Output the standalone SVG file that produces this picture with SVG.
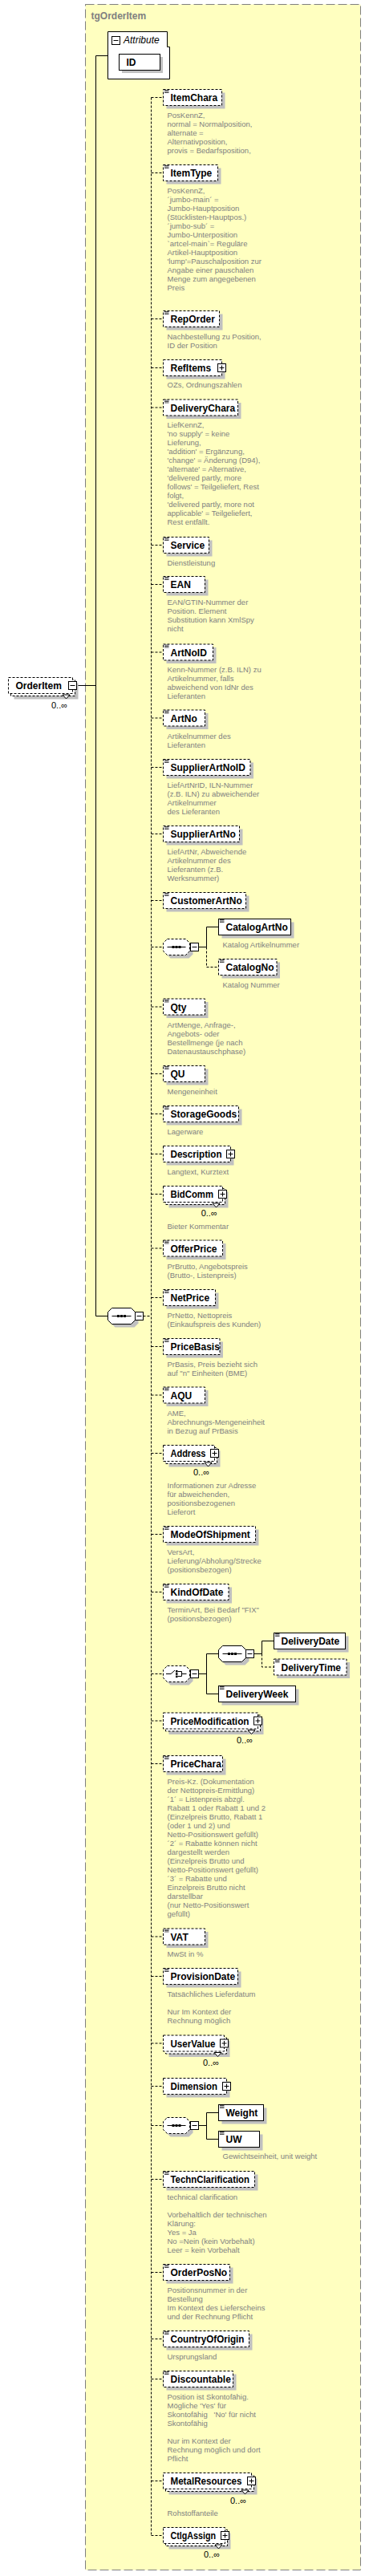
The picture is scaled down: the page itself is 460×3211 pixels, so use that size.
<svg xmlns="http://www.w3.org/2000/svg" width="460" height="3211" viewBox="0 0 460 3211">
<style>
.bg{fill:#FFFFC0;stroke:#808080;stroke-width:1;stroke-dasharray:11 4}
.sh{fill:#C0C0C0;stroke:none}
.b{fill:#fff;stroke:#000;stroke-width:1}
.d{stroke-dasharray:3 2}
.ln{fill:none;stroke:#000;stroke-width:1}
.dl{fill:none;stroke:#000;stroke-width:1;stroke-dasharray:3 2}
.ic{fill:none;stroke:#000;stroke-width:0.7}
.dot{fill:#000}
.ttl{font-family:"Liberation Sans",Arial,sans-serif;font-size:12px;font-weight:bold;fill:#808080}
.nm{font-family:"Liberation Sans",Arial,sans-serif;font-size:12px;font-weight:bold;fill:#000}
.it{font-family:"Liberation Sans",Arial,sans-serif;font-size:12px;font-style:italic;fill:#000}
.ds{font-family:"Liberation Sans",Arial,sans-serif;font-size:9.5px;fill:#808080}
.mu{font-family:"Liberation Sans",Arial,sans-serif;font-size:11px;fill:#000}
</style>

<g id="tgOrderItem">
<rect class="bg" x="106.5" y="5.5" width="343" height="3198"/>
<text class="ttl" x="113.5" y="24">tgOrderItem</text>
</g>

<g id="connectors">
<path class="ln" d="M95.5 854.5H119.5M119.5 69.5V1640.5H134.5M119.5 69.5H134.5"/>
<path class="dl" d="M178.5 1640.5H188.5M188.5 121.5V3160.5"/>
<path class="dl" d="M188.5 121.5H203.5M188.5 215.5H203.5M188.5 397.5H203.5M188.5 458.5H203.5M188.5 508H203.5M188.5 679.5H203.5M188.5 728.5H203.5M188.5 813H203.5M188.5 895H203.5M188.5 956.5H203.5M188.5 1039.5H203.5M188.5 1122.5H203.5M188.5 1180.5H203.5M188.5 1255H203.5M188.5 1338.5H203.5M188.5 1388.5H203.5M188.5 1438.5H203.5M188.5 1488.5H203.5M188.5 1556H203.5M188.5 1617.5H203.5M188.5 1678.5H203.5M188.5 1739H203.5M188.5 1811.5H203.5M188.5 1912.5H203.5M188.5 1984.5H203.5M188.5 2086.5H203.5M188.5 2145H203.5M188.5 2198.5H203.5M188.5 2414H203.5M188.5 2463.5H203.5M188.5 2547H203.5M188.5 2600.5H203.5M188.5 2649.5H203.5M188.5 2716.5H203.5M188.5 2832.5H203.5M188.5 2915.5H203.5M188.5 2965.5H203.5M188.5 3092.5H203.5M188.5 3160.5H203.5"/>
<path class="ln" d="M247.5 1180.5H257.5M257.5 1155.5V1180.5M257.5 1155.5H272.5"/>
<path class="dl" d="M257.5 1180.5V1205.5H272.5"/>
<path class="ln" d="M247.5 2086.5H257.5M257.5 2061.5V2111.5M257.5 2061.5H272.5M257.5 2111.5H272.5"/>
<path class="ln" d="M316.5 2061.5H326.5M326.5 2045.5V2061.5M326.5 2045.5H341.5"/>
<path class="dl" d="M326.5 2061.5V2078H341.5"/>
<path class="ln" d="M247.5 2649.5H257.5M257.5 2633.5V2666.5M257.5 2633.5H272.5M257.5 2666.5H272.5"/>
</g>

<g id="OrderItem">
<rect class="sh" x="17.5" y="851.5" width="80" height="20"/>
<rect class="b d" x="13.5" y="847.5" width="80" height="20"/>
<rect class="b d" x="10.5" y="844.5" width="80" height="20"/>
<polygon class="b" points="78,866 82.5,871 87,866"/>
<text class="nm" x="19.5" y="859">OrderItem</text>
<rect class="b" x="85.5" y="849.5" width="10" height="10"/>
<path class="ln" d="M87.5 854.5h6"/>
<text class="mu" x="64" y="882.5">0..∞</text>
</g>

<g id="Attribute">
<polygon class="b" points="134.5,39.5 208.5,39.5 208.5,58.5 211.5,58.5 211.5,98.5 134.5,98.5"/>
<rect class="b" x="139.5" y="45.5" width="10" height="10"/>
<path class="ln" d="M141.5 50.5h6"/>
<text class="it" x="154" y="54">Attribute</text>
<rect class="sh" x="152" y="71" width="51" height="20"/>
<rect class="b" x="148.5" y="67.5" width="51" height="20"/>
<text class="nm" x="157.5" y="82">ID</text>
</g>

<g id="sequence">
<path class="sh" transform="translate(4 4)" d="M139.5 1630.5H163.5L168.5 1635.5V1645.5L163.5 1650.5H139.5L134.5 1645.5V1635.5Z"/>
<path class="b" d="M139.5 1630.5H163.5L168.5 1635.5V1645.5L163.5 1650.5H139.5L134.5 1645.5V1635.5Z"/>
<path class="ln" d="M139.5 1640.5H163.5"/>
<rect class="dot" x="146" y="1639" width="3" height="3"/><rect class="dot" x="150" y="1639" width="3" height="3"/><rect class="dot" x="154" y="1639" width="3" height="3"/>
<rect class="b" x="168.5" y="1635.5" width="10" height="10"/>
<path class="ln" d="M170.5 1640.5h6"/>
</g>

<g id="ItemChara">
<rect class="sh" x="207.5" y="115.5" width="73" height="20"/>
<rect class="b d" x="203.5" y="111.5" width="73" height="20"/>
<path class="ic" d="M205 112.5h5.5M205 114h5.5M205 115.5h5.5"/>
<text class="nm" x="212.5" y="126">ItemChara</text>
<text class="ds" y="147"><tspan x="208.5">PosKennZ,</tspan><tspan x="208.5" dy="11">normal = Normalposition,</tspan><tspan x="208.5" dy="11">alternate =</tspan><tspan x="208.5" dy="11">Alternativposition,</tspan><tspan x="208.5" dy="11">provis = Bedarfsposition,</tspan></text>
</g>

<g id="ItemType">
<rect class="sh" x="207.5" y="209.5" width="68" height="20"/>
<rect class="b d" x="203.5" y="205.5" width="68" height="20"/>
<path class="ic" d="M205 206.5h5.5M205 208h5.5M205 209.5h5.5"/>
<text class="nm" x="212.5" y="220">ItemType</text>
<text class="ds" y="241"><tspan x="208.5">PosKennZ,</tspan><tspan x="208.5" dy="11">´jumbo-main´ =</tspan><tspan x="208.5" dy="11">Jumbo-Hauptposition</tspan><tspan x="208.5" dy="11">(Stücklisten-Hauptpos.)</tspan><tspan x="208.5" dy="11">´jumbo-sub´ =</tspan><tspan x="208.5" dy="11">Jumbo-Unterposition</tspan><tspan x="208.5" dy="11">`artcel-main`= Reguläre</tspan><tspan x="208.5" dy="11">Artikel-Hauptposition</tspan><tspan x="208.5" dy="11">'lump'=Pauschalposition zur</tspan><tspan x="208.5" dy="11">Angabe einer pauschalen</tspan><tspan x="208.5" dy="11">Menge zum angegebenen</tspan><tspan x="208.5" dy="11">Preis</tspan></text>
</g>

<g id="RepOrder">
<rect class="sh" x="207.5" y="391.5" width="70" height="20"/>
<rect class="b d" x="203.5" y="387.5" width="70" height="20"/>
<path class="ic" d="M205 388.5h5.5M205 390h5.5M205 391.5h5.5"/>
<text class="nm" x="212.5" y="402">RepOrder</text>
<text class="ds" y="423"><tspan x="208.5">Nachbestellung zu Position,</tspan><tspan x="208.5" dy="11">ID der Position</tspan></text>
</g>

<g id="RefItems">
<rect class="sh" x="207.5" y="452.5" width="73" height="20"/>
<rect class="b d" x="203.5" y="448.5" width="73" height="20"/>
<text class="nm" x="212.5" y="463">RefItems</text>
<rect class="b" x="271.5" y="453.5" width="10" height="10"/>
<path class="ln" d="M273.5 458.5h6M276.5 455.5v6"/>
<text class="ds" y="483"><tspan x="208.5">OZs, Ordnungszahlen</tspan></text>
</g>

<g id="DeliveryChara">
<rect class="sh" x="207.5" y="502" width="93" height="20"/>
<rect class="b d" x="203.5" y="498" width="93" height="20"/>
<path class="ic" d="M205 499h5.5M205 500.5h5.5M205 502h5.5"/>
<text class="nm" x="212.5" y="512.5">DeliveryChara</text>
<text class="ds" y="533"><tspan x="208.5">LiefKennZ,</tspan><tspan x="208.5" dy="11">'no supply' = keine</tspan><tspan x="208.5" dy="11">Lieferung,</tspan><tspan x="208.5" dy="11">'addition' = Ergänzung,</tspan><tspan x="208.5" dy="11">'change' = Änderung (D94),</tspan><tspan x="208.5" dy="11">'alternate' = Alternative,</tspan><tspan x="208.5" dy="11">'delivered partly, more</tspan><tspan x="208.5" dy="11">follows' = Teilgeliefert, Rest</tspan><tspan x="208.5" dy="11">folgt,</tspan><tspan x="208.5" dy="11">'delivered partly, more not</tspan><tspan x="208.5" dy="11">applicable' = Teilgeliefert,</tspan><tspan x="208.5" dy="11">Rest entfällt.</tspan></text>
</g>

<g id="Service">
<rect class="sh" x="207.5" y="673.5" width="57" height="20"/>
<rect class="b d" x="203.5" y="669.5" width="57" height="20"/>
<path class="ic" d="M205 670.5h5.5M205 672h5.5M205 673.5h5.5"/>
<text class="nm" x="212.5" y="684">Service</text>
<text class="ds" y="704.5"><tspan x="208.5">Dienstleistung</tspan></text>
</g>

<g id="EAN">
<rect class="sh" x="207.5" y="722.5" width="52" height="20"/>
<rect class="b d" x="203.5" y="718.5" width="52" height="20"/>
<path class="ic" d="M205 719.5h5.5M205 721h5.5M205 722.5h5.5"/>
<text class="nm" x="212.5" y="733">EAN</text>
<text class="ds" y="754"><tspan x="208.5">EAN/GTIN-Nummer der</tspan><tspan x="208.5" dy="11">Position. Element</tspan><tspan x="208.5" dy="11">Substitution kann XmlSpy</tspan><tspan x="208.5" dy="11">nicht</tspan></text>
</g>

<g id="ArtNoID">
<rect class="sh" x="207.5" y="807" width="62" height="20"/>
<rect class="b d" x="203.5" y="803" width="62" height="20"/>
<path class="ic" d="M205 804h5.5M205 805.5h5.5M205 807h5.5"/>
<text class="nm" x="212.5" y="817.5">ArtNoID</text>
<text class="ds" y="837.5"><tspan x="208.5">Kenn-Nummer (z.B. ILN) zu</tspan><tspan x="208.5" dy="11">Artikelnummer, falls</tspan><tspan x="208.5" dy="11">abweichend von IdNr des</tspan><tspan x="208.5" dy="11">Lieferanten</tspan></text>
</g>

<g id="ArtNo">
<rect class="sh" x="207.5" y="889" width="52" height="20"/>
<rect class="b d" x="203.5" y="885" width="52" height="20"/>
<path class="ic" d="M205 886h5.5M205 887.5h5.5M205 889h5.5"/>
<text class="nm" x="212.5" y="899.5">ArtNo</text>
<text class="ds" y="920.5"><tspan x="208.5">Artikelnummer des</tspan><tspan x="208.5" dy="11">Lieferanten</tspan></text>
</g>

<g id="SupplierArtNoID">
<rect class="sh" x="207.5" y="950.5" width="108.5" height="20"/>
<rect class="b d" x="203.5" y="946.5" width="108.5" height="20"/>
<path class="ic" d="M205 947.5h5.5M205 949h5.5M205 950.5h5.5"/>
<text class="nm" x="212.5" y="961">SupplierArtNoID</text>
<text class="ds" y="981.5"><tspan x="208.5">LiefArtNrID, ILN-Nummer</tspan><tspan x="208.5" dy="11">(z.B. ILN) zu abweichender</tspan><tspan x="208.5" dy="11">Artikelnummer</tspan><tspan x="208.5" dy="11">des Lieferanten</tspan></text>
</g>

<g id="SupplierArtNo">
<rect class="sh" x="207.5" y="1033.5" width="95" height="20"/>
<rect class="b d" x="203.5" y="1029.5" width="95" height="20"/>
<path class="ic" d="M205 1030.5h5.5M205 1032h5.5M205 1033.5h5.5"/>
<text class="nm" x="212.5" y="1044">SupplierArtNo</text>
<text class="ds" y="1064.5"><tspan x="208.5">LiefArtNr, Abweichende</tspan><tspan x="208.5" dy="11">Artikelnummer des</tspan><tspan x="208.5" dy="11">Lieferanten (z.B.</tspan><tspan x="208.5" dy="11">Werksnummer)</tspan></text>
</g>

<g id="CustomerArtNo">
<rect class="sh" x="207.5" y="1116.5" width="103" height="20"/>
<rect class="b d" x="203.5" y="1112.5" width="103" height="20"/>
<path class="ic" d="M205 1113.5h5.5M205 1115h5.5M205 1116.5h5.5"/>
<text class="nm" x="212.5" y="1127">CustomerArtNo</text>
</g>

<g id="sequence-catalog">
<path class="sh" transform="translate(4 4)" d="M208.5 1170.5H231.5L236.5 1175.5V1185.5L231.5 1190.5H208.5L203.5 1185.5V1175.5Z"/>
<path class="b d" d="M208.5 1170.5H231.5L236.5 1175.5V1185.5L231.5 1190.5H208.5L203.5 1185.5V1175.5Z"/>
<path class="ln" d="M208.5 1180.5H231.5"/>
<rect class="dot" x="214.5" y="1179" width="3" height="3"/><rect class="dot" x="218.5" y="1179" width="3" height="3"/><rect class="dot" x="222.5" y="1179" width="3" height="3"/>
<rect class="b" x="237.5" y="1175.5" width="10" height="10"/>
<path class="ln" d="M239.5 1180.5h6"/>
</g>

<g id="CatalogArtNo">
<rect class="sh" x="276.5" y="1149.5" width="90" height="20"/>
<rect class="b" x="272.5" y="1145.5" width="90" height="20"/>
<path class="ic" d="M274 1146.5h5.5M274 1148h5.5M274 1149.5h5.5"/>
<text class="nm" x="281.5" y="1160">CatalogArtNo</text>
<text class="ds" x="277.5" y="1180.5">Katalog Artikelnummer</text>
</g>

<g id="CatalogNo">
<rect class="sh" x="276.5" y="1199.5" width="72.5" height="20"/>
<rect class="b d" x="272.5" y="1195.5" width="72.5" height="20"/>
<path class="ic" d="M274 1196.5h5.5M274 1198h5.5M274 1199.5h5.5"/>
<text class="nm" x="281.5" y="1210">CatalogNo</text>
<text class="ds" x="277.5" y="1230.5">Katalog Nummer</text>
</g>

<g id="Qty">
<rect class="sh" x="207.5" y="1249" width="52" height="20"/>
<rect class="b d" x="203.5" y="1245" width="52" height="20"/>
<path class="ic" d="M205 1246h5.5M205 1247.5h5.5M205 1249h5.5"/>
<text class="nm" x="212.5" y="1259.5">Qty</text>
<text class="ds" y="1280.5"><tspan x="208.5">ArtMenge, Anfrage-,</tspan><tspan x="208.5" dy="11">Angebots- oder</tspan><tspan x="208.5" dy="11">Bestellmenge (je nach</tspan><tspan x="208.5" dy="11">Datenaustauschphase)</tspan></text>
</g>

<g id="QU">
<rect class="sh" x="207.5" y="1332.5" width="52" height="20"/>
<rect class="b d" x="203.5" y="1328.5" width="52" height="20"/>
<path class="ic" d="M205 1329.5h5.5M205 1331h5.5M205 1332.5h5.5"/>
<text class="nm" x="212.5" y="1343">QU</text>
<text class="ds" y="1363.5"><tspan x="208.5">Mengeneinheit</tspan></text>
</g>

<g id="StorageGoods">
<rect class="sh" x="207.5" y="1382.5" width="94" height="20"/>
<rect class="b d" x="203.5" y="1378.5" width="94" height="20"/>
<path class="ic" d="M205 1379.5h5.5M205 1381h5.5M205 1382.5h5.5"/>
<text class="nm" x="212.5" y="1393">StorageGoods</text>
<text class="ds" y="1413.5"><tspan x="208.5">Lagerware</tspan></text>
</g>

<g id="Description">
<rect class="sh" x="207.5" y="1432.5" width="84" height="20"/>
<rect class="b d" x="203.5" y="1428.5" width="84" height="20"/>
<text class="nm" x="212.5" y="1443" textLength="64" lengthAdjust="spacingAndGlyphs">Description</text>
<rect class="b" x="282.5" y="1433.5" width="10" height="10"/>
<path class="ln" d="M284.5 1438.5h6M287.5 1435.5v6"/>
<text class="ds" y="1463.5"><tspan x="208.5">Langtext, Kurztext</tspan></text>
</g>

<g id="BidComm">
<rect class="sh" x="210.5" y="1485.5" width="74" height="20"/>
<rect class="b d" x="206.5" y="1481.5" width="74" height="20"/>
<rect class="b d" x="203.5" y="1478.5" width="74" height="20"/>
<polygon class="b" points="265,1500 269.5,1505 274,1500"/>
<text class="nm" x="212.5" y="1493" textLength="53.5" lengthAdjust="spacingAndGlyphs">BidComm</text>
<rect class="b" x="272.5" y="1483.5" width="10" height="10"/>
<path class="ln" d="M274.5 1488.5h6M277.5 1485.5v6"/>
<text class="mu" x="250.7" y="1516">0..∞</text>
<text class="ds" y="1531.5"><tspan x="208.5">Bieter Kommentar</tspan></text>
</g>

<g id="OfferPrice">
<rect class="sh" x="207.5" y="1550" width="74" height="20"/>
<rect class="b d" x="203.5" y="1546" width="74" height="20"/>
<path class="ic" d="M205 1547h5.5M205 1548.5h5.5M205 1550h5.5"/>
<text class="nm" x="212.5" y="1560.5">OfferPrice</text>
<text class="ds" y="1581.5"><tspan x="208.5">PrBrutto, Angebotspreis</tspan><tspan x="208.5" dy="11">(Brutto-, Listenpreis)</tspan></text>
</g>

<g id="NetPrice">
<rect class="sh" x="207.5" y="1611.5" width="65" height="20"/>
<rect class="b d" x="203.5" y="1607.5" width="65" height="20"/>
<path class="ic" d="M205 1608.5h5.5M205 1610h5.5M205 1611.5h5.5"/>
<text class="nm" x="212.5" y="1622">NetPrice</text>
<text class="ds" y="1642.5"><tspan x="208.5">PrNetto, Nettopreis</tspan><tspan x="208.5" dy="11">(Einkaufspreis des Kunden)</tspan></text>
</g>

<g id="PriceBasis">
<rect class="sh" x="207.5" y="1672.5" width="70.5" height="20"/>
<rect class="b d" x="203.5" y="1668.5" width="70.5" height="20"/>
<path class="ic" d="M205 1669.5h5.5M205 1671h5.5M205 1672.5h5.5"/>
<text class="nm" x="212.5" y="1683">PriceBasis</text>
<text class="ds" y="1703.5"><tspan x="208.5">PrBasis, Preis bezieht sich</tspan><tspan x="208.5" dy="11">auf "n" Einheiten (BME)</tspan></text>
</g>

<g id="AQU">
<rect class="sh" x="207.5" y="1733" width="52" height="20"/>
<rect class="b d" x="203.5" y="1729" width="52" height="20"/>
<path class="ic" d="M205 1730h5.5M205 1731.5h5.5M205 1733h5.5"/>
<text class="nm" x="212.5" y="1743.5">AQU</text>
<text class="ds" y="1764.5"><tspan x="208.5">AME,</tspan><tspan x="208.5" dy="11">Abrechnungs-Mengeneinheit</tspan><tspan x="208.5" dy="11">in Bezug auf PrBasis</tspan></text>
</g>

<g id="Address">
<rect class="sh" x="210.5" y="1808.5" width="64" height="20"/>
<rect class="b d" x="206.5" y="1804.5" width="64" height="20"/>
<rect class="b d" x="203.5" y="1801.5" width="64" height="20"/>
<polygon class="b" points="255,1823 259.5,1828 264,1823"/>
<text class="nm" x="212.5" y="1816" textLength="44" lengthAdjust="spacingAndGlyphs">Address</text>
<rect class="b" x="262.5" y="1806.5" width="10" height="10"/>
<path class="ln" d="M264.5 1811.5h6M267.5 1808.5v6"/>
<text class="mu" x="241" y="1839">0..∞</text>
<text class="ds" y="1854.5"><tspan x="208.5">Informationen zur Adresse</tspan><tspan x="208.5" dy="11">für abweichenden,</tspan><tspan x="208.5" dy="11">positionsbezogenen</tspan><tspan x="208.5" dy="11">Lieferort</tspan></text>
</g>

<g id="ModeOfShipment">
<rect class="sh" x="207.5" y="1906.5" width="115" height="20"/>
<rect class="b d" x="203.5" y="1902.5" width="115" height="20"/>
<path class="ic" d="M205 1903.5h5.5M205 1905h5.5M205 1906.5h5.5"/>
<text class="nm" x="212.5" y="1917">ModeOfShipment</text>
<text class="ds" y="1937.5"><tspan x="208.5">VersArt,</tspan><tspan x="208.5" dy="11">Lieferung/Abholung/Strecke</tspan><tspan x="208.5" dy="11">(positionsbezogen)</tspan></text>
</g>

<g id="KindOfDate">
<rect class="sh" x="207.5" y="1978.5" width="81.5" height="20"/>
<rect class="b d" x="203.5" y="1974.5" width="81.5" height="20"/>
<path class="ic" d="M205 1975.5h5.5M205 1977h5.5M205 1978.5h5.5"/>
<text class="nm" x="212.5" y="1989">KindOfDate</text>
<text class="ds" y="2009.5"><tspan x="208.5">TerminArt, Bei Bedarf "FIX"</tspan><tspan x="208.5" dy="11">(positionsbezogen)</tspan></text>
</g>

<g id="choice-delivery">
<path class="sh" transform="translate(4 4)" d="M208.5 2076.5H231.5L236.5 2081.5V2091.5L231.5 2096.5H208.5L203.5 2091.5V2081.5Z"/>
<path class="b d" d="M208.5 2076.5H231.5L236.5 2081.5V2091.5L231.5 2096.5H208.5L203.5 2091.5V2081.5Z"/>
<path class="ln" d="M207 2086.5H213L218 2082M221.5 2083.5H226.5V2089.5H221.5M226.5 2086.5H232.5"/>
<rect class="dot" x="219" y="2082" width="2.5" height="2.5"/><rect class="dot" x="219" y="2085.3" width="2.5" height="2.5"/><rect class="dot" x="219" y="2088.6" width="2.5" height="2.5"/>
<rect class="b" x="237.5" y="2081.5" width="10" height="10"/>
<path class="ln" d="M239.5 2086.5h6"/>
</g>

<g id="sequence-date">
<path class="sh" transform="translate(4 4)" d="M277.5 2051.5H301.5L306.5 2056.5V2066.5L301.5 2071.5H277.5L272.5 2066.5V2056.5Z"/>
<path class="b" d="M277.5 2051.5H301.5L306.5 2056.5V2066.5L301.5 2071.5H277.5L272.5 2066.5V2056.5Z"/>
<path class="ln" d="M277.5 2061.5H301.5"/>
<rect class="dot" x="284" y="2060" width="3" height="3"/><rect class="dot" x="288" y="2060" width="3" height="3"/><rect class="dot" x="292" y="2060" width="3" height="3"/>
<rect class="b" x="306.5" y="2056.5" width="10" height="10"/>
<path class="ln" d="M308.5 2061.5h6"/>
</g>

<g id="DeliveryDate">
<rect class="sh" x="345.5" y="2039.5" width="89" height="20"/>
<rect class="b" x="341.5" y="2035.5" width="89" height="20"/>
<path class="ic" d="M343 2036.5h5.5M343 2038h5.5M343 2039.5h5.5"/>
<text class="nm" x="350.5" y="2050">DeliveryDate</text>
</g>

<g id="DeliveryTime">
<rect class="sh" x="345.5" y="2072" width="90.5" height="20"/>
<rect class="b d" x="341.5" y="2068" width="90.5" height="20"/>
<path class="ic" d="M343 2069h5.5M343 2070.5h5.5M343 2072h5.5"/>
<text class="nm" x="350.5" y="2082.5">DeliveryTime</text>
</g>

<g id="DeliveryWeek">
<rect class="sh" x="276.5" y="2105.5" width="96" height="20"/>
<rect class="b" x="272.5" y="2101.5" width="96" height="20"/>
<path class="ic" d="M274 2102.5h5.5M274 2104h5.5M274 2105.5h5.5"/>
<text class="nm" x="281.5" y="2116">DeliveryWeek</text>
</g>

<g id="PriceModification">
<rect class="sh" x="210.5" y="2142" width="118" height="20"/>
<rect class="b d" x="206.5" y="2138" width="118" height="20"/>
<rect class="b d" x="203.5" y="2135" width="118" height="20"/>
<polygon class="b" points="309,2156.5 313.5,2161.5 318,2156.5"/>
<text class="nm" x="212.5" y="2149.5" textLength="98" lengthAdjust="spacingAndGlyphs">PriceModification</text>
<rect class="b" x="316.5" y="2140" width="10" height="10"/>
<path class="ln" d="M318.5 2145h6M321.5 2142v6"/>
<text class="mu" x="295" y="2172.5">0..∞</text>
</g>

<g id="PriceChara">
<rect class="sh" x="207.5" y="2192.5" width="74" height="20"/>
<rect class="b d" x="203.5" y="2188.5" width="74" height="20"/>
<path class="ic" d="M205 2189.5h5.5M205 2191h5.5M205 2192.5h5.5"/>
<text class="nm" x="212.5" y="2203">PriceChara</text>
<text class="ds" y="2224"><tspan x="208.5">Preis-Kz. (Dokumentation</tspan><tspan x="208.5" dy="11">der Nettopreis-Ermittlung)</tspan><tspan x="208.5" dy="11">´1´ = Listenpreis abzgl.</tspan><tspan x="208.5" dy="11">Rabatt 1 oder Rabatt 1 und 2</tspan><tspan x="208.5" dy="11">(Einzelpreis Brutto, Rabatt 1</tspan><tspan x="208.5" dy="11">(oder 1 und 2) und</tspan><tspan x="208.5" dy="11">Netto-Positionswert gefüllt)</tspan><tspan x="208.5" dy="11">´2´ = Rabatte können nicht</tspan><tspan x="208.5" dy="11">dargestellt werden</tspan><tspan x="208.5" dy="11">(Einzelpreis Brutto und</tspan><tspan x="208.5" dy="11">Netto-Positionswert gefüllt)</tspan><tspan x="208.5" dy="11">´3´ = Rabatte und</tspan><tspan x="208.5" dy="11">Einzelpreis Brutto nicht</tspan><tspan x="208.5" dy="11">darstellbar</tspan><tspan x="208.5" dy="11">(nur Netto-Positionswert</tspan><tspan x="208.5" dy="11">gefüllt)</tspan></text>
</g>

<g id="VAT">
<rect class="sh" x="207.5" y="2408" width="52" height="20"/>
<rect class="b d" x="203.5" y="2404" width="52" height="20"/>
<path class="ic" d="M205 2405h5.5M205 2406.5h5.5M205 2408h5.5"/>
<text class="nm" x="212.5" y="2418.5">VAT</text>
<text class="ds" y="2438.5"><tspan x="208.5">MwSt in %</tspan></text>
</g>

<g id="ProvisionDate">
<rect class="sh" x="207.5" y="2457.5" width="93" height="20"/>
<rect class="b d" x="203.5" y="2453.5" width="93" height="20"/>
<path class="ic" d="M205 2454.5h5.5M205 2456h5.5M205 2457.5h5.5"/>
<text class="nm" x="212.5" y="2468">ProvisionDate</text>
<text class="ds" y="2488.5"><tspan x="208.5">Tatsächliches Lieferdatum</tspan><tspan x="208.5" dy="22">Nur Im Kontext der</tspan><tspan x="208.5" dy="11">Rechnung möglich</tspan></text>
</g>

<g id="UserValue">
<rect class="sh" x="210.5" y="2544" width="76" height="20"/>
<rect class="b d" x="206.5" y="2540" width="76" height="20"/>
<rect class="b d" x="203.5" y="2537" width="76" height="20"/>
<polygon class="b" points="267,2558.5 271.5,2563.5 276,2558.5"/>
<text class="nm" x="212.5" y="2551.5" textLength="56" lengthAdjust="spacingAndGlyphs">UserValue</text>
<rect class="b" x="274.5" y="2542" width="10" height="10"/>
<path class="ln" d="M276.5 2547h6M279.5 2544v6"/>
<text class="mu" x="253" y="2574.5">0..∞</text>
</g>

<g id="Dimension">
<rect class="sh" x="207.5" y="2594.5" width="79" height="20"/>
<rect class="b d" x="203.5" y="2590.5" width="79" height="20"/>
<text class="nm" x="212.5" y="2605" textLength="58.5" lengthAdjust="spacingAndGlyphs">Dimension</text>
<rect class="b" x="277.5" y="2595.5" width="10" height="10"/>
<path class="ln" d="M279.5 2600.5h6M282.5 2597.5v6"/>
</g>

<g id="sequence-weight">
<path class="sh" transform="translate(4 4)" d="M208.5 2639.5H231.5L236.5 2644.5V2654.5L231.5 2659.5H208.5L203.5 2654.5V2644.5Z"/>
<path class="b d" d="M208.5 2639.5H231.5L236.5 2644.5V2654.5L231.5 2659.5H208.5L203.5 2654.5V2644.5Z"/>
<path class="ln" d="M208.5 2649.5H231.5"/>
<rect class="dot" x="214.5" y="2648" width="3" height="3"/><rect class="dot" x="218.5" y="2648" width="3" height="3"/><rect class="dot" x="222.5" y="2648" width="3" height="3"/>
<rect class="b" x="237.5" y="2644.5" width="10" height="10"/>
<path class="ln" d="M239.5 2649.5h6"/>
</g>

<g id="Weight">
<rect class="sh" x="276.5" y="2627.5" width="56" height="20"/>
<rect class="b" x="272.5" y="2623.5" width="56" height="20"/>
<path class="ic" d="M274 2624.5h5.5M274 2626h5.5M274 2627.5h5.5"/>
<text class="nm" x="281.5" y="2638">Weight</text>
</g>

<g id="UW">
<rect class="sh" x="276.5" y="2660.5" width="51" height="20"/>
<rect class="b" x="272.5" y="2656.5" width="51" height="20"/>
<path class="ic" d="M274 2657.5h5.5M274 2659h5.5M274 2660.5h5.5"/>
<text class="nm" x="281.5" y="2671">UW</text>
<text class="ds" x="277.5" y="2691">Gewichtseinheit, unit weight</text>
</g>

<g id="TechnClarification">
<rect class="sh" x="207.5" y="2710.5" width="114" height="20"/>
<rect class="b d" x="203.5" y="2706.5" width="114" height="20"/>
<path class="ic" d="M205 2707.5h5.5M205 2709h5.5M205 2710.5h5.5"/>
<text class="nm" x="212.5" y="2721" textLength="98.5" lengthAdjust="spacingAndGlyphs">TechnClarification</text>
<text class="ds" y="2741.5"><tspan x="208.5">technical clarification</tspan><tspan x="208.5" dy="22">Vorbehaltlich der technischen</tspan><tspan x="208.5" dy="11">Klärung:</tspan><tspan x="208.5" dy="11">Yes = Ja</tspan><tspan x="208.5" dy="11">No =Nein (kein Vorbehalt)</tspan><tspan x="208.5" dy="11">Leer = kein Vorbehalt</tspan></text>
</g>

<g id="OrderPosNo">
<rect class="sh" x="207.5" y="2826.5" width="83" height="20"/>
<rect class="b d" x="203.5" y="2822.5" width="83" height="20"/>
<path class="ic" d="M205 2823.5h5.5M205 2825h5.5M205 2826.5h5.5"/>
<text class="nm" x="212.5" y="2837">OrderPosNo</text>
<text class="ds" y="2857.5"><tspan x="208.5">Positionsnummer in der</tspan><tspan x="208.5" dy="11">Bestellung</tspan><tspan x="208.5" dy="11">Im Kontext des Lieferscheins</tspan><tspan x="208.5" dy="11">und der Rechnung Pflicht</tspan></text>
</g>

<g id="CountryOfOrigin">
<rect class="sh" x="207.5" y="2909.5" width="107" height="20"/>
<rect class="b d" x="203.5" y="2905.5" width="107" height="20"/>
<path class="ic" d="M205 2906.5h5.5M205 2908h5.5M205 2909.5h5.5"/>
<text class="nm" x="212.5" y="2920" textLength="92" lengthAdjust="spacingAndGlyphs">CountryOfOrigin</text>
<text class="ds" y="2940.5"><tspan x="208.5">Ursprungsland</tspan></text>
</g>

<g id="Discountable">
<rect class="sh" x="207.5" y="2959.5" width="87" height="20"/>
<rect class="b d" x="203.5" y="2955.5" width="87" height="20"/>
<path class="ic" d="M205 2956.5h5.5M205 2958h5.5M205 2959.5h5.5"/>
<text class="nm" x="212.5" y="2970">Discountable</text>
<text class="ds" y="2990.5" xml:space="preserve"><tspan x="208.5">Position ist Skontofähig.</tspan><tspan x="208.5" dy="11">Mögliche 'Yes' für</tspan><tspan x="208.5" dy="11">Skontofähig   'No' für nicht</tspan><tspan x="208.5" dy="11">Skontofähig</tspan><tspan x="208.5" dy="22">Nur im Kontext der</tspan><tspan x="208.5" dy="11">Rechnung möglich und dort</tspan><tspan x="208.5" dy="11">Pflicht</tspan></text>
</g>

<g id="MetalResources">
<rect class="sh" x="210.5" y="3089.5" width="110" height="20"/>
<rect class="b d" x="206.5" y="3085.5" width="110" height="20"/>
<rect class="b d" x="203.5" y="3082.5" width="110" height="20"/>
<polygon class="b" points="301,3104 305.5,3109 310,3104"/>
<text class="nm" x="212.5" y="3097" textLength="89" lengthAdjust="spacingAndGlyphs">MetalResources</text>
<rect class="b" x="308.5" y="3087.5" width="10" height="10"/>
<path class="ln" d="M310.5 3092.5h6M313.5 3089.5v6"/>
<text class="mu" x="287" y="3120.5">0..∞</text>
<text class="ds" y="3135.5"><tspan x="208.5">Rohstoffanteile</tspan></text>
</g>

<g id="CtlgAssign">
<rect class="sh" x="210.5" y="3157.5" width="77" height="20"/>
<rect class="b d" x="206.5" y="3153.5" width="77" height="20"/>
<rect class="b d" x="203.5" y="3150.5" width="77" height="20"/>
<polygon class="b" points="268,3172 272.5,3177 277,3172"/>
<text class="nm" x="212.5" y="3165" textLength="56.5" lengthAdjust="spacingAndGlyphs">CtlgAssign</text>
<rect class="b" x="275.5" y="3155.5" width="10" height="10"/>
<path class="ln" d="M277.5 3160.5h6M280.5 3157.5v6"/>
<text class="mu" x="254" y="3188">0..∞</text>
</g>
</svg>
